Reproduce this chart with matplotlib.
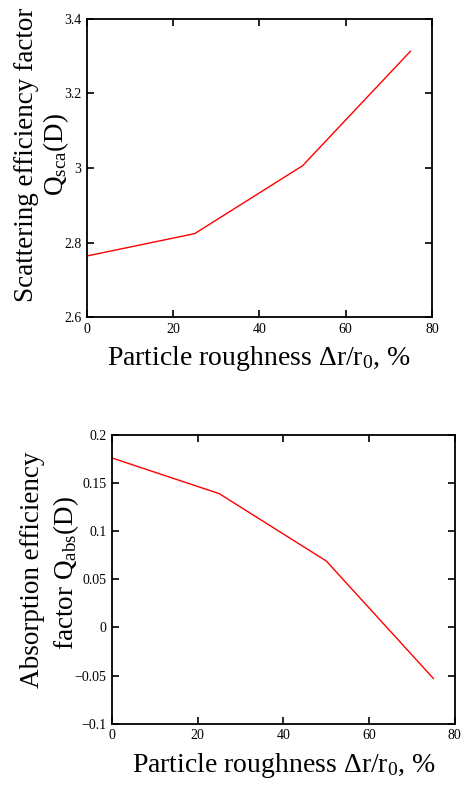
import matplotlib
matplotlib.use("Agg")
import matplotlib.pyplot as plt

# roughness, %
roughness = [0, 25, 50, 75]
# scattering efficiency factor Q_sca(D)
q_sca = [2.764, 2.824, 3.006, 3.313]
# absorption efficiency factor Q_abs(D)
q_abs = [0.176, 0.139, 0.069, -0.053]

sca_ticks = [2.6, 2.8, 3.0, 3.2, 3.4]
sca_labels = ["2.6", "2.8", "3", "3.2", "3.4"]
abs_ticks = [-0.1, -0.05, 0, 0.05, 0.1, 0.15, 0.2]
abs_labels = ["\u22120.1", "\u22120.05", "0", "0.05", "0.1", "0.15", "0.2"]
x_ticks = [0, 20, 40, 60, 80]

plt.rcParams['font.family'] = ['Liberation Serif', 'DejaVu Serif']
plt.rcParams['mathtext.fontset'] = 'custom'
plt.rcParams['mathtext.rm'] = 'Liberation Serif'
plt.rcParams['mathtext.default'] = 'regular'

XLABEL = "Particle roughness \u0394r/r$_0$, %"


def _style(ax):
    for s in ax.spines.values():
        s.set_linewidth(1.3)
    ax.tick_params(direction='in', length=5, width=1.2, top=True, right=True,
                   labelsize=10, pad=4)
    ax.set_xlim(0, 80)
    ax.set_xticks(x_ticks)
    ax.set_xticklabels([str(t) for t in x_ticks])


def _ylabel_lines(ax, lines, xs, ys):
    """ Draw a two-line y label, one text per line. """
    for text, x, y in zip(lines, xs, ys):
        ax.text(x, y, text, transform=ax.transAxes, rotation=90,
                ha='center', va='center', fontsize=19.5)


fig = plt.figure(figsize=(4.67, 7.85), dpi=100)

## top panel
ax1 = fig.add_axes((0.186, 0.596, 0.739, 0.380))
ax1.plot(roughness, q_sca, color='red', lw=1.0)
_style(ax1)
ax1.set_ylim(2.6, 3.4)
ax1.set_yticks(sca_ticks)
ax1.set_yticklabels(sca_labels)
ax1.set_xlabel(XLABEL, fontsize=20, labelpad=6)
_ylabel_lines(ax1, ["Scattering efficiency factor", "Q$_{sca}$(D)"],
              [-0.174, -0.089], [0.544, 0.544])

## bottom panel
ax2 = fig.add_axes((0.240, 0.078, 0.734, 0.368))
ax2.plot(roughness, q_abs, color='red', lw=1.0)
_style(ax2)
ax2.set_ylim(-0.1, 0.2)
ax2.set_yticks(abs_ticks)
ax2.set_yticklabels(abs_labels)
ax2.set_xlabel(XLABEL, fontsize=20, labelpad=6)
_ylabel_lines(ax2, ["Absorption efficiency", "factor Q$_{abs}$(D)"],
              [-0.232, -0.134], [0.533, 0.523])

plt.savefig("out.png", dpi=100)
